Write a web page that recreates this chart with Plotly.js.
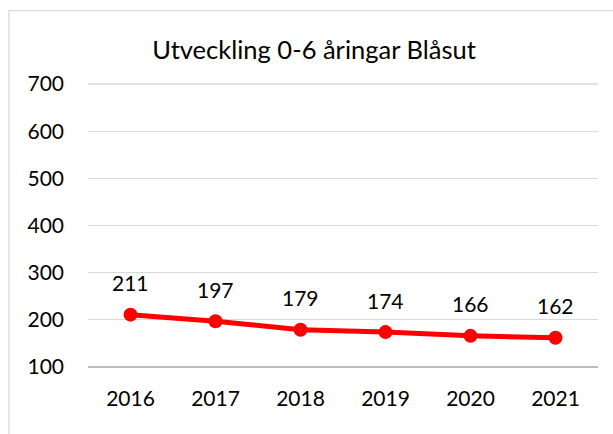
<!DOCTYPE html>
<html>
<head>
<meta charset="utf-8">
<script src="https://cdn.plot.ly/plotly-3.0.1.min.js"></script>
<style>
html,body{margin:0;padding:0;background:#fff;}
#chart{width:613px;height:434px;}
</style>
</head>
<body>
<div id="chart"></div>
<script>
const years = ['2016','2017','2018','2019','2020','2021'];
const values = [211, 197, 179, 174, 166, 162];
const yTicks = [100, 200, 300, 400, 500, 600, 700];
const chartTitle = 'Utveckling 0-6 åringar Blåsut';

const FONT = 'Lato, "Open Sans", sans-serif';

const W = 613, H = 434;
const m = {l: 88, r: 15, t: 83.5, b: 66.7};
const pw = W - m.l - m.r, ph = H - m.t - m.b;

const trace = {
  x: years,
  y: values,
  type: 'scatter',
  mode: 'lines+markers',
  line: {color: '#ff0000', width: 5},
  marker: {color: '#ff0000', size: 14},
  hoverinfo: 'skip',
  cliponaxis: false
};

const annotations = years.map((yr, i) => ({
  x: i, y: values[i], xref: 'x', yref: 'y',
  text: String(values[i]), showarrow: false, yshift: 32,
  font: {family: FONT, size: 21, color: '#000'}
}));

const layout = {
  width: W, height: H,
  margin: m,
  paper_bgcolor: '#fff', plot_bgcolor: '#fff',
  showlegend: false,
  title: {
    text: chartTitle,
    font: {family: FONT, size: 25.5, color: '#000'},
    x: 314 / W, xanchor: 'center',
    y: 1 - 50 / H, yanchor: 'middle'
  },
  xaxis: {
    type: 'category',
    range: [-0.5, years.length - 0.5],
    showgrid: false, zeroline: false,
    showline: false, ticks: '',
    tickfont: {family: FONT, size: 21, color: '#000'},
    ticklabelstandoff: 17
  },
  yaxis: {
    range: [100, 700],
    tickvals: yTicks,
    ticktext: yTicks.map(String),
    showgrid: true, gridcolor: '#d9d9d9', gridwidth: 1.3,
    zeroline: false, showline: false, ticks: '',
    tickfont: {family: FONT, size: 21, color: '#000'},
    ticklabelstandoff: 23
  },
  shapes: [
    {type: 'line', xref: 'paper', yref: 'paper', x0: 0, x1: 1, y0: 1, y1: 1,
     line: {color: '#d9d9d9', width: 1.3}, layer: 'below'},
    {type: 'line', xref: 'paper', yref: 'paper', x0: 0, x1: 1, y0: 0, y1: 0,
     line: {color: '#a6a6a6', width: 1.3}, layer: 'below'},
    {type: 'rect', xref: 'paper', yref: 'paper',
     x0: (9 - m.l) / pw, x1: (W + 5 - m.l) / pw,
     y0: -(H + 5 - m.t - ph) / ph, y1: 1 + (m.t - 10) / ph,
     line: {color: '#d9d9d9', width: 1.3}, fillcolor: 'rgba(0,0,0,0)', layer: 'below'}
  ],
  annotations: annotations
};

Plotly.newPlot('chart', [trace], layout, {staticPlot: true, displayModeBar: false});
</script>
</body>
</html>
